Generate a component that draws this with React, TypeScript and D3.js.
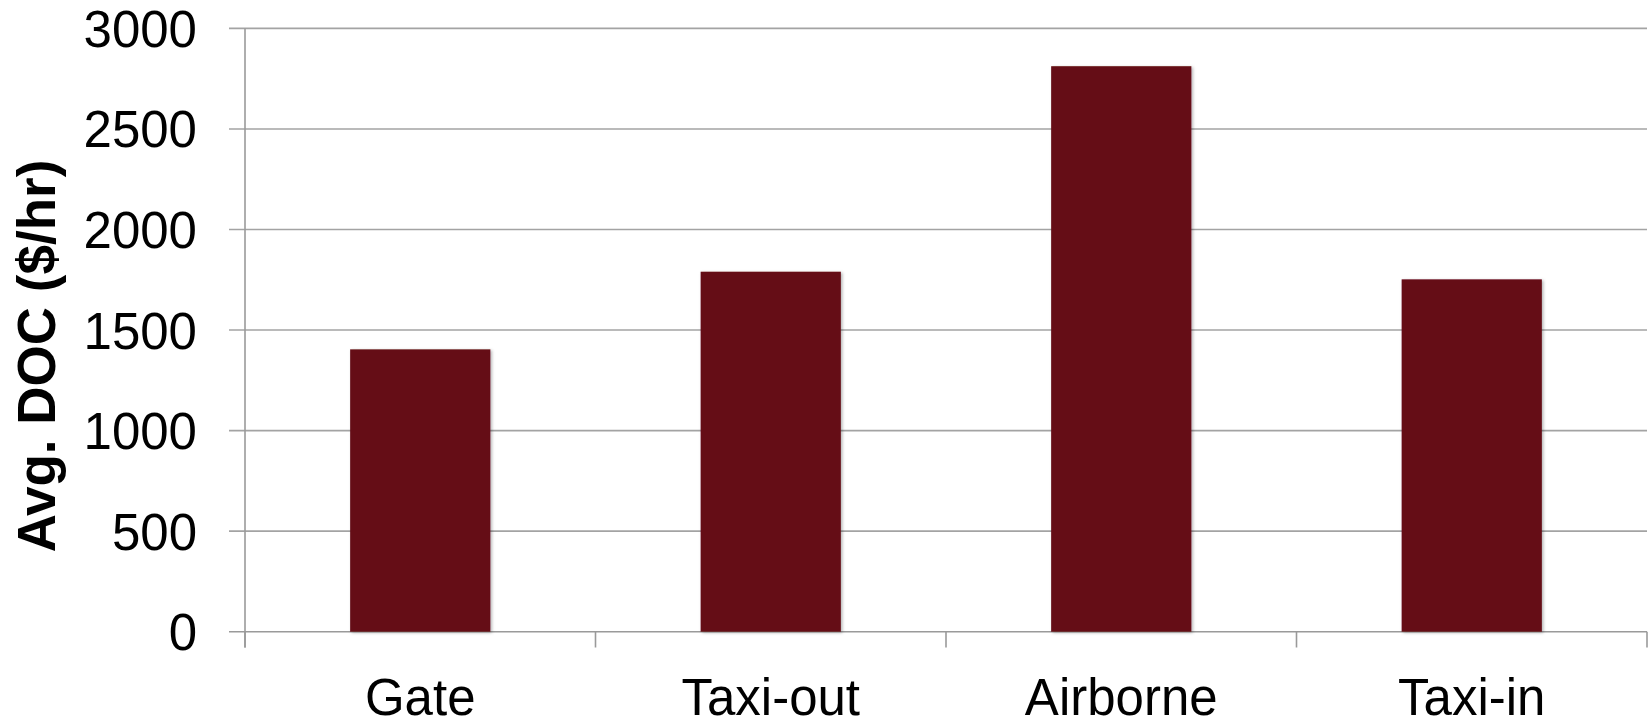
import React from "react";
import * as d3 from "d3";

const categories = ["Gate", "Taxi-out", "Airborne", "Taxi-in"];
const values = [1404, 1790, 2812, 1752];
const yTicks = [0, 500, 1000, 1500, 2000, 2500, 3000];
const yTitle = "Avg. DOC ($/hr)";

const W = 1650;
const H = 724;

export default function App() {
  const x = d3
    .scaleBand<string>()
    .domain(categories)
    .range([245, 1647])
    .paddingInner(0.6)
    .paddingOuter(0.3);
  const y = d3.scaleLinear().domain([0, 3000]).range([631.7, 28.4]);
  const step = x.step();
  const gridColor = "#a3a3a3";
  const axisColor = "#9a9a9a";
  const font = "Arial, 'Liberation Sans', Helvetica, sans-serif";

  const boundaries = d3.range(categories.length + 1).map((i) => 245 + i * step);

  return (
    <svg
      width={W}
      height={H}
      style={{ position: "absolute", left: 0, top: 0, background: "#fff" }}
      fontFamily={font}
    >
      <defs>
        <filter id="shadow" x="-10%" y="-10%" width="130%" height="130%">
          <feDropShadow dx="1.5" dy="1" stdDeviation="1.5" floodColor="#000" floodOpacity="0.3" />
        </filter>
      </defs>
      {/* gridlines */}
      {yTicks.map((t) => (
        <line
          key={"g" + t}
          x1={229}
          x2={1647}
          y1={y(t)}
          y2={y(t)}
          stroke={t === 0 ? axisColor : gridColor}
          strokeWidth={1.6}
        />
      ))}
      {/* y axis line */}
      <line x1={245} x2={245} y1={y(3000)} y2={647.5} stroke={axisColor} strokeWidth={1.6} />
      {/* category ticks */}
      {boundaries.map((bx, i) => (
        <line key={"t" + i} x1={bx} x2={bx} y1={y(0)} y2={647.5} stroke={axisColor} strokeWidth={1.6} />
      ))}
      {/* bars */}
      {categories.map((c, i) => (
        <rect
          key={c}
          x={x(c)}
          y={y(values[i])}
          width={x.bandwidth()}
          height={y(0) - y(values[i])}
          fill="#650b15"
          filter="url(#shadow)"
        />
      ))}
      {/* y tick labels */}
      {yTicks.map((t) => (
        <text key={"l" + t} x={197} y={y(t) + 18.5} textAnchor="end" fontSize={51} fill="#000">
          {t}
        </text>
      ))}
      {/* category labels */}
      {categories.map((c) => (
        <text
          key={"c" + c}
          x={(x(c) as number) + x.bandwidth() / 2}
          y={715}
          textAnchor="middle"
          fontSize={51}
          fill="#000"
        >
          {c}
        </text>
      ))}
      {/* y title */}
      <text
        transform="rotate(-90)"
        x={-356}
        y={54.5}
        textAnchor="middle"
        fontSize={53}
        fontWeight="bold"
        fill="#000"
      >
        {yTitle}
      </text>
    </svg>
  );
}
